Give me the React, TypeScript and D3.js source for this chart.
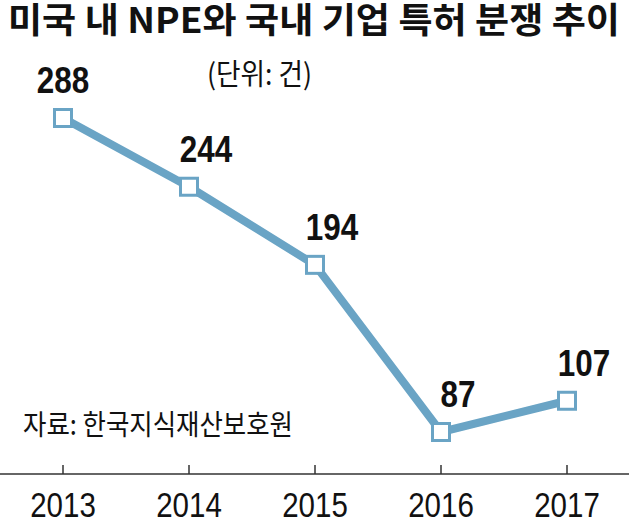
import React from "react";
import * as d3 from "d3";

const years = ["2013", "2014", "2015", "2016", "2017"];
const values = [288, 244, 194, 87, 107];
const title = "미국 내 NPE와 국내 기업 특허 분쟁 추이";
const unit = "(단위: 건)";
const source = "자료: 한국지식재산보호원";

const W = 629;
const H = 521;
const BLUE = "#6aa4c5";
const SANS = "'Liberation Sans', Arial, sans-serif";
const CJK = "'Noto Sans CJK KR', 'Noto Sans', sans-serif";

function NarrowText(props: {
  x: number;
  y: number;
  size: number;
  weight?: number;
  sx: number;
  children: React.ReactNode;
}) {
  return (
    <text
      transform={`translate(${props.x},${props.y}) scale(${props.sx},1)`}
      textAnchor="middle"
      fontFamily={SANS}
      fontWeight={props.weight ?? 400}
      fontSize={props.size}
      fill="#111"
    >
      {props.children}
    </text>
  );
}

export default function App() {
  const x = d3.scalePoint<string>().domain(years).range([63, 567]);
  const y = d3.scaleLinear().domain([87, 288]).range([432, 118]);
  const line = d3
    .line<number>()
    .x((_, i) => x(years[i]) as number)
    .y((d) => y(d));
  const axisY = 474;
  const sq = 17;

  return (
    <svg
      width={W}
      height={H}
      style={{ position: "absolute", left: 0, top: 0, background: "#fff" }}
    >
      <text
        x={8}
        y={33}
        fontFamily={CJK}
        fontWeight={700}
        fontSize={35}
        textLength={612}
        lengthAdjust="spacingAndGlyphs"
        fill="#111"
      >
        {title}
      </text>
      <text
        x={207}
        y={85}
        fontFamily={CJK}
        fontSize={29}
        textLength={105}
        lengthAdjust="spacingAndGlyphs"
        fill="#111"
      >
        {unit}
      </text>
      <text
        x={23}
        y={435}
        fontFamily={CJK}
        fontSize={28}
        textLength={270}
        lengthAdjust="spacingAndGlyphs"
        fill="#111"
      >
        {source}
      </text>

      <line x1={0} x2={W} y1={axisY} y2={axisY} stroke="#333" strokeWidth={1.5} />
      {years.map((yr) => (
        <g key={yr}>
          <line
            x1={x(yr)}
            x2={x(yr)}
            y1={axisY - 9}
            y2={axisY}
            stroke="#333"
            strokeWidth={1.5}
          />
          <NarrowText x={x(yr) as number} y={517} size={36} sx={0.82}>
            {yr}
          </NarrowText>
        </g>
      ))}

      <path
        d={line(values) || ""}
        fill="none"
        stroke={BLUE}
        strokeWidth={8}
        strokeLinejoin="round"
      />
      {values.map((v, i) => (
        <g key={i}>
          <rect
            x={(x(years[i]) as number) - sq / 2}
            y={y(v) - sq / 2}
            width={sq}
            height={sq}
            fill="#fff"
            stroke={BLUE}
            strokeWidth={3}
          />
          <NarrowText
            x={(x(years[i]) as number) + (i === 0 ? 0 : 17)}
            y={y(v) - 25}
            size={37}
            weight={700}
            sx={0.85}
          >
            {v}
          </NarrowText>
        </g>
      ))}
    </svg>
  );
}
